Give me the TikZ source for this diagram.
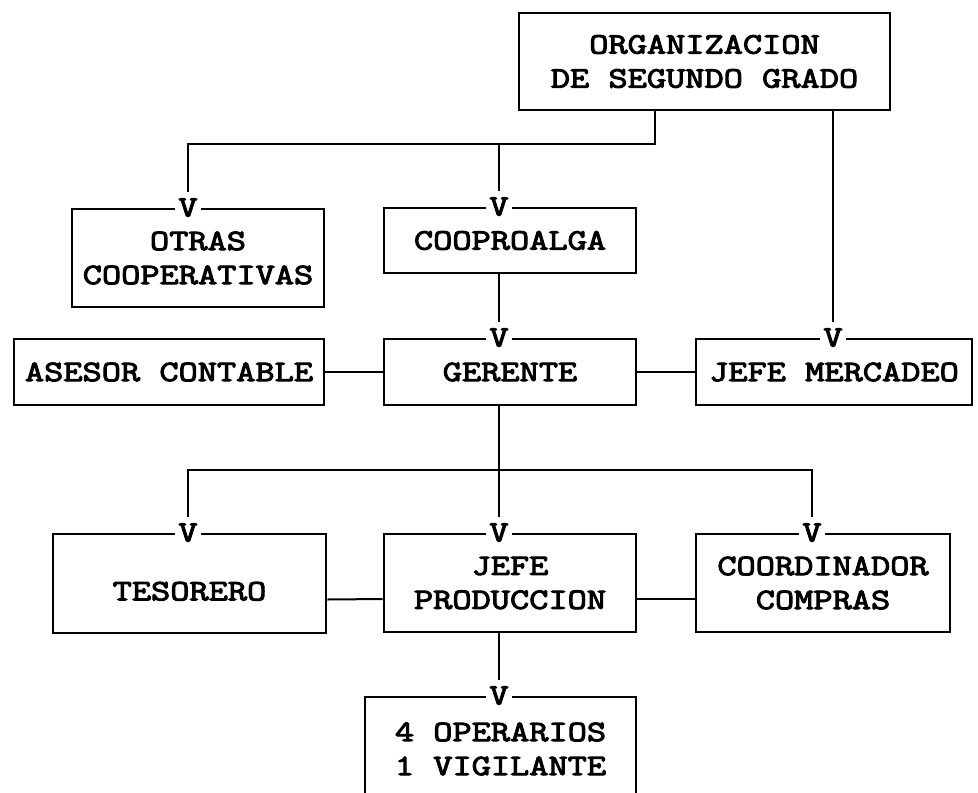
\documentclass[tikz,border=0pt]{standalone}
\usepackage{fontspec}
\setmonofont[FakeStretch=1.26, FakeBold=3.5]{Latin Modern Mono}
\usetikzlibrary{calc}
\def\texto{\ttfamily\fontsize{14.8}{17}\selectfont}
\tikzset{
	caja/.style={draw, line width=1.4pt, inner sep=0pt, align=center, font=\texto},
	vmark/.style={fill=white, inner xsep=1.5pt, inner ysep=3pt, font=\texto},
	enlace/.style={line width=1pt}
}

\begin{document}
\begin{tikzpicture}[x=0.5pt, y=-0.5pt]
			%%%%% START %%%%%
			
			\useasboundingbox[fill=white] (0, 0) rectangle (978, 792);
			
			\node[caja, minimum width=185.5pt, minimum height=48.5pt] (org) at (704.5, 61.5) {ORGANIZACION\\DE SEGUNDO GRADO};
			
			\node[caja, minimum width=126pt, minimum height=49pt] (otras) at (198, 258) {OTRAS\\COOPERATIVAS};
			\node[caja, minimum width=126pt, minimum height=32.5pt] (coop) at (510, 240.5) {COOPROALGA};
			
			\node[caja, minimum width=155pt, minimum height=33pt] (asesor) at (169, 372) {ASESOR CONTABLE};
			\node[caja, minimum width=126pt, minimum height=33pt] (gerente) at (510, 372) {GERENTE};
			\node[caja, minimum width=138pt, minimum height=33pt] (mercadeo) at (834, 372) {JEFE MERCADEO};
			
			\node[caja, minimum width=136.5pt, minimum height=49.5pt] (tesorero) at (189.5, 583.5) {\mbox{}\\TESORERO};
			\node[caja, minimum width=126pt, minimum height=49pt] (jefeprod) at (510, 583) {JEFE\\PRODUCCION};
			\node[caja, minimum width=127pt, minimum height=49pt] (coord) at (823, 583) {COORDINADOR\\COMPRAS};
			
			\node[caja, minimum width=135.5pt, minimum height=52pt] (operarios) at (500.5, 749) {4 OPERARIOS\\1 VIGILANTE};
			
			% puntas V
			\node[vmark] (vo) at ($(otras.north)+(-10, 0)$) {V};
			\node[vmark] (vc) at ($(coop.north)+(-11, 0)$) {V};
			\node[vmark] (vg) at ($(gerente.north)+(-11, 0)$) {V};
			\node[vmark] (vm) at ($(mercadeo.north)+(-1, 0)$) {V};
			\node[vmark] (vt) at ($(tesorero.north)+(-1.5, 0)$) {V};
			\node[vmark] (vj) at ($(jefeprod.north)+(-11, 0)$) {V};
			\node[vmark] (vk) at ($(coord.north)+(-11, 0)$) {V};
			\node[vmark] (vp) at ($(operarios.north)+(-1.5, 0)$) {V};
			
			\coordinate (bus1) at (655, 144);
			\coordinate (bus2) at (499, 470);
			
			\draw[enlace] (org.south -| bus1) -- (bus1) -| (vo);
			\draw[enlace] (vc |- bus1) -- (vc);
			\draw[enlace] (org.south -| vm) -- (vm);
			\draw[enlace] (coop.south -| vg) -- (vg);
			
			\draw[enlace] (asesor) -- (gerente);
			\draw[enlace] (gerente) -- (mercadeo);
			
			\draw[enlace] (gerente.south -| vj) -- (vj);
			\draw[enlace] (vt) |- (bus2) -| (vk);
			
			\draw[enlace] ($(tesorero.east)+(0, 16)$) -- ($(jefeprod.west)+(0, 16)$);
			\draw[enlace] ($(jefeprod.east)+(0, 16)$) -- ($(coord.west)+(0, 16)$);
			
			\draw[enlace] (jefeprod.south -| vp) -- (vp);
			
			%%%%% END %%%%%
\end{tikzpicture}
\end{document}
